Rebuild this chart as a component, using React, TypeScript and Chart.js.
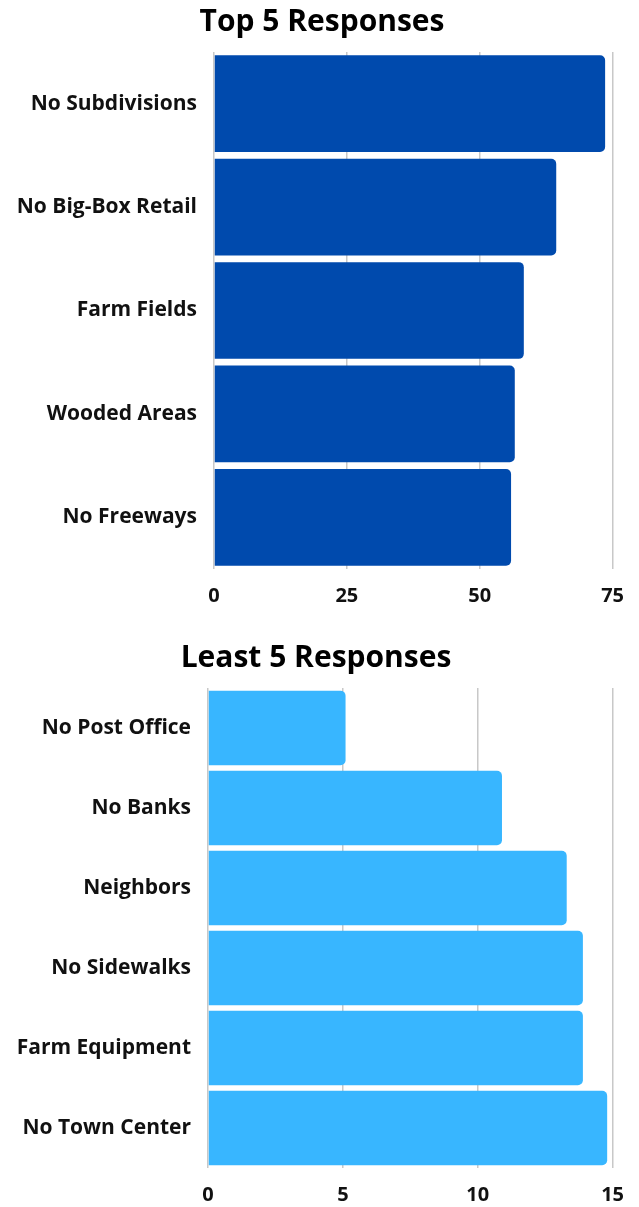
import React, { useEffect, useRef } from "react";
import { Chart, registerables } from "chart.js";

Chart.register(...registerables);

const topTitle = "Top 5 Responses";
const topCategories = ["No Subdivisions", "No Big-Box Retail", "Farm Fields", "Wooded Areas", "No Freeways"];
const topValues = [73.6, 64.4, 58.3, 56.6, 55.9];
const topTicks = [0, 25, 50, 75];

const leastTitle = "Least 5 Responses";
const leastCategories = ["No Post Office", "No Banks", "Neighbors", "No Sidewalks", "Farm Equipment", "No Town Center"];
const leastValues = [5.1, 10.9, 13.3, 13.9, 13.9, 14.8];
const leastTicks = [0, 5, 10, 15];

const FONT = "'Open Sans', Lato, sans-serif";

// lets the y labels extend left of the scale box without being clipped
const unclipLabels = {
  id: "unclipLabels",
  afterLayout(chart: any) {
    const y = chart.scales.y;
    if (y) y.left = 0;
  },
};

function makeConfig(opts: {
  title: string;
  labels: string[];
  values: number[];
  ticks: number[];
  color: string;
  titleTop: number;
  padLeft: number;
  axisWidth: number;
  padRight: number;
  barPct: number;
}) {
  const min = opts.ticks[0];
  const max = opts.ticks[opts.ticks.length - 1];
  const step = opts.ticks[1] - opts.ticks[0];
  return {
    type: "bar" as const,
    data: {
      labels: opts.labels,
      datasets: [
        {
          data: opts.values,
          backgroundColor: opts.color,
          borderRadius: 5,
          categoryPercentage: 1,
          barPercentage: opts.barPct,
        },
      ],
    },
    plugins: [unclipLabels],
    options: {
      indexAxis: "y" as const,
      animation: false as const,
      responsive: false,
      maintainAspectRatio: false,
      layout: { padding: { left: opts.padLeft, right: opts.padRight, top: 0, bottom: 0 } },
      plugins: {
        legend: { display: false },
        tooltip: { enabled: false },
        title: {
          display: true,
          text: opts.title,
          color: "#000",
          font: { family: FONT, size: 30, weight: "bold" as const, lineHeight: 1.2 },
          padding: { top: opts.titleTop, bottom: 12 },
        },
      },
      scales: {
        x: {
          min,
          max,
          ticks: {
            stepSize: step,
            color: "#111",
            padding: 15,
            font: { family: FONT, size: 20, weight: "bold" as const, lineHeight: 1.2 },
          },
          grid: { color: "#c8c8c8", lineWidth: 1.5, drawTicks: false },
          border: { display: false },
          afterFit: (scale: any) => {
            scale.height = 39;
          },
        },
        y: {
          ticks: {
            color: "#111",
            padding: 17,
            font: { family: FONT, size: 21, weight: "bold" as const, lineHeight: 1.2 },
          },
          grid: { display: false, drawTicks: false },
          border: { display: false },
          afterFit: (scale: any) => {
            scale.width = opts.axisWidth;
          },
        },
      },
    },
  };
}

function BarChart(props: { config: any; width: number; height: number }) {
  const ref = useRef<HTMLCanvasElement>(null);
  useEffect(() => {
    if (!ref.current) return;
    const chart = new Chart(ref.current, props.config);
    return () => chart.destroy();
  }, []);
  return (
    <canvas
      ref={ref}
      width={props.width}
      height={props.height}
      style={{ display: "block", width: props.width, height: props.height }}
    />
  );
}

export default function App() {
  const topConfig = makeConfig({
    title: topTitle,
    labels: topCategories,
    values: topValues,
    ticks: topTicks,
    color: "#004AAD",
    titleTop: 4,
    padLeft: 30,
    axisWidth: 184,
    padRight: 25,
    barPct: 0.935,
  });
  const leastConfig = makeConfig({
    title: leastTitle,
    labels: leastCategories,
    values: leastValues,
    ticks: leastTicks,
    color: "#38B6FF",
    titleTop: 32,
    padLeft: 19,
    axisWidth: 189,
    padRight: 26,
    barPct: 0.93,
  });
  return (
    <div style={{ position: "absolute", left: 0, top: 0, width: 639, height: 1207, background: "#fff" }}>
      <BarChart config={topConfig} width={639} height={608} />
      <BarChart config={leastConfig} width={639} height={599} />
    </div>
  );
}
